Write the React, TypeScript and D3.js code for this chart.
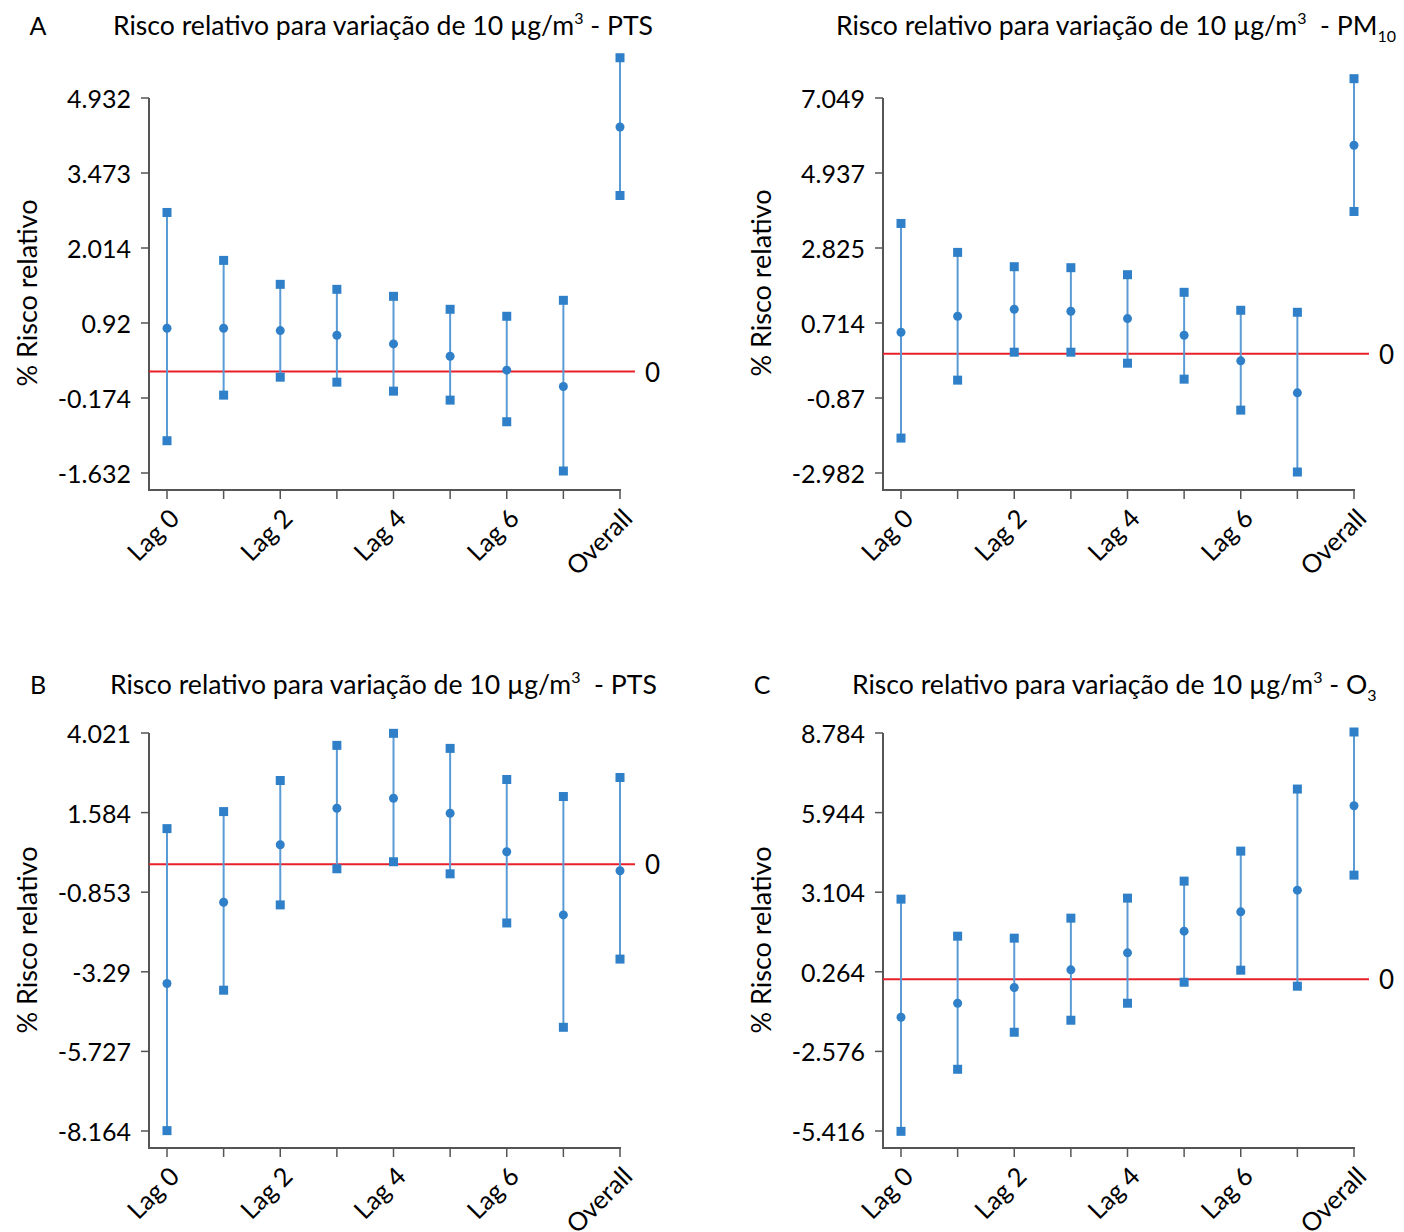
import React from "react";
import * as d3 from "d3";

// ---------- DATA ----------
const categories = ["Lag 0", "Lag 1", "Lag 2", "Lag 3", "Lag 4", "Lag 5", "Lag 6", "Lag 7", "Overall"];
const labelledCategories = ["Lag 0", "Lag 2", "Lag 4", "Lag 6", "Overall"];

// Panel A – PTS
const ptsA_est = [0.78, 0.78, 0.738, 0.654, 0.498, 0.276, 0.024, -0.27, 4.41];
const ptsA_low = [-1.248, -0.426, -0.102, -0.192, -0.354, -0.516, -0.906, -1.794, 3.174];
const ptsA_high = [2.868, 2.004, 1.572, 1.482, 1.356, 1.122, 0.996, 1.284, 5.658];
const ptsA_ticks = ["-1.632", "-0.174", "0.92", "2.014", "3.473", "4.932"];
const ptsA_domain = [-1.83, 4.932];

// Panel A – PM10
const pm10_est = [0.596, 1.036, 1.228, 1.173, 0.971, 0.513, -0.193, -1.073, 5.747];
const pm10_low = [-2.32, -0.724, 0.046, 0.046, -0.257, -0.697, -1.55, -3.255, 3.923];
const pm10_high = [3.593, 2.796, 2.401, 2.374, 2.181, 1.696, 1.201, 1.146, 7.581];
const pm10_ticks = ["-2.982", "-0.87", "0.714", "2.825", "4.937", "7.049"];
const pm10_domain = [-3.282, 7.049];

// Panel B – PTS
const ptsB_est = [-3.648, -1.16, 0.601, 1.717, 2.024, 1.564, 0.386, -1.549, -0.197];
const ptsB_low = [-8.153, -3.853, -1.242, -0.136, 0.079, -0.29, -1.795, -4.989, -2.901];
const ptsB_high = [1.093, 1.615, 2.567, 3.642, 4.011, 3.55, 2.598, 2.076, 2.659];
const ptsB_ticks = ["-8.164", "-5.727", "-3.29", "-0.853", "1.584", "4.021"];
const ptsB_domain = [-8.164, 4.021];

// Panel C – O3
const o3_est = [-1.357, -0.857, -0.298, 0.333, 0.94, 1.714, 2.404, 3.178, 6.189];
const o3_low = [-5.428, -3.214, -1.893, -1.464, -0.857, -0.108, 0.321, -0.25, 3.713];
const o3_high = [2.856, 1.535, 1.464, 2.178, 2.892, 3.499, 4.57, 6.784, 8.82];
const o3_ticks = ["-5.416", "-2.576", "0.264", "3.104", "5.944", "8.784"];
const o3_domain = [-5.416, 8.784];

// ---------- STYLE ----------
const FONT = "Lato, 'Open Sans', sans-serif";
const MARK = "#2F80C8";
const WHISKER = "#5B9BD5";
const REF = "#E8202A";
const AXIS = "#555555";

type PanelProps = {
  letter?: string;
  letterX?: number;
  titleX: number;
  titleMain: string;
  titleTail: string;
  titleSub: string;
  axisX: number;
  firstX: number;
  lastX: number;
  yTop: number;
  yBottom: number;
  xAxisY: number;
  refEndX: number;
  titleY: number;
  ylabelX: number;
  ylabelY: number;
  est: number[];
  low: number[];
  high: number[];
  ticks: string[];
  domain: number[];
};

function Panel(p: PanelProps) {
  const x = d3.scalePoint<string>().domain(categories).range([p.firstX, p.lastX]);
  const y = d3.scaleLinear().domain(p.domain).range([p.yBottom, p.yTop]);
  const tickVals = d3.range(p.ticks.length).map(
    (i) => p.domain[0] + (i * (p.domain[1] - p.domain[0])) / (p.ticks.length - 1)
  );
  const sq = 9;
  return (
    <g>
      {p.letter && (
        <text x={p.letterX} y={p.titleY} fontSize={25} fontFamily={FONT} textAnchor="middle">
          {p.letter}
        </text>
      )}
      <text x={p.titleX} y={p.titleY} fontSize={26.6} fontFamily={FONT}>
        {p.titleMain}
        <tspan fontSize={16} dy={-11}>3</tspan>
        <tspan dy={11}>{p.titleTail}</tspan>
        {p.titleSub && (
          <tspan fontSize={16} dy={7}>{p.titleSub}</tspan>
        )}
      </text>
      {/* y label */}
      <text
        transform={`translate(${p.ylabelX},${p.ylabelY}) rotate(-90)`}
        textAnchor="middle"
        dominantBaseline="central"
        fontSize={27}
        fontFamily={FONT}
      >
        % Risco relativo
      </text>
      {/* axes */}
      <line x1={p.axisX} x2={p.axisX} y1={p.yTop} y2={p.xAxisY} stroke={AXIS} strokeWidth={2} />
      <line x1={p.axisX - 1} x2={p.lastX + 1} y1={p.xAxisY} y2={p.xAxisY} stroke={AXIS} strokeWidth={2} />
      {tickVals.map((v, i) => (
        <g key={i}>
          <line x1={p.axisX - 8} x2={p.axisX} y1={y(v)} y2={y(v)} stroke={AXIS} strokeWidth={1.5} />
          <text
            x={p.axisX - 18}
            y={y(v)}
            textAnchor="end"
            dominantBaseline="central"
            fontSize={25}
            fontFamily={FONT}
          >
            {p.ticks[i]}
          </text>
        </g>
      ))}
      {categories.map((c) => (
        <g key={c}>
          <line x1={x(c)} x2={x(c)} y1={p.xAxisY} y2={p.xAxisY + 9} stroke={AXIS} strokeWidth={1.5} />
          {labelledCategories.includes(c) && (
            <text
              transform={`translate(${(x(c) as number) + 14},${p.xAxisY + 30}) rotate(-45)`}
              textAnchor="end"
              fontSize={25.5}
              fontFamily={FONT}
            >
              {c}
            </text>
          )}
        </g>
      ))}
      {/* reference line */}
      <line x1={p.axisX} x2={p.refEndX} y1={y(0)} y2={y(0)} stroke={REF} strokeWidth={2} />
      <text x={p.refEndX + 10} y={y(0)} dominantBaseline="central" fontSize={26} fontFamily={FONT}>
        0
      </text>
      {/* intervals */}
      {categories.map((c, i) => {
        const cx = x(c) as number;
        return (
          <g key={"m" + c}>
            <line x1={cx} x2={cx} y1={y(p.low[i])} y2={y(p.high[i])} stroke={WHISKER} strokeWidth={2} />
            <rect x={cx - sq / 2} y={y(p.high[i]) - sq / 2} width={sq} height={sq} fill={MARK} />
            <rect x={cx - sq / 2} y={y(p.low[i]) - sq / 2} width={sq} height={sq} fill={MARK} />
            <circle cx={cx} cy={y(p.est[i])} r={4.5} fill={MARK} />
          </g>
        );
      })}
    </g>
  );
}

export default function App() {
  const left = { axisX: 149, firstX: 167, lastX: 620, refEndX: 635, ylabelX: 26 };
  const right = { axisX: 883, firstX: 901, lastX: 1354, refEndX: 1369, ylabelX: 760 };
  const top = { yTop: 98, yBottom: 473, xAxisY: 490, titleY: 35 };
  const bottom = { yTop: 733, yBottom: 1131, xAxisY: 1148, titleY: 694 };
  return (
    <svg
      width={1404}
      height={1232}
      style={{ position: "absolute", left: 0, top: 0, background: "#fff" }}
    >
      <rect width={1404} height={1232} fill="#fff" />
      <Panel
        {...left}
        {...top}
        letter="A"
        letterX={38}
        titleX={113}
        titleMain="Risco relativo para variação de 10 µg/m"
        titleTail=" - PTS"
        titleSub=""
        ylabelY={293}
        est={ptsA_est}
        low={ptsA_low}
        high={ptsA_high}
        ticks={ptsA_ticks}
        domain={ptsA_domain}
      />
      <Panel
        {...right}
        {...top}
        titleX={836}
        titleMain="Risco relativo para variação de 10 µg/m"
        titleTail={"\u00a0 - PM"}
        titleSub="10"
        ylabelY={283}
        est={pm10_est}
        low={pm10_low}
        high={pm10_high}
        ticks={pm10_ticks}
        domain={pm10_domain}
      />
      <Panel
        {...left}
        {...bottom}
        letter="B"
        letterX={38}
        titleX={110}
        titleMain="Risco relativo para variação de 10 µg/m"
        titleTail={"\u00a0 - PTS"}
        titleSub=""
        ylabelY={940}
        est={ptsB_est}
        low={ptsB_low}
        high={ptsB_high}
        ticks={ptsB_ticks}
        domain={ptsB_domain}
      />
      <Panel
        {...right}
        {...bottom}
        letter="C"
        letterX={762}
        titleX={852}
        titleMain="Risco relativo para variação de 10 µg/m"
        titleTail=" - O"
        titleSub="3"
        ylabelY={940}
        est={o3_est}
        low={o3_low}
        high={o3_high}
        ticks={o3_ticks}
        domain={o3_domain}
      />
    </svg>
  );
}
